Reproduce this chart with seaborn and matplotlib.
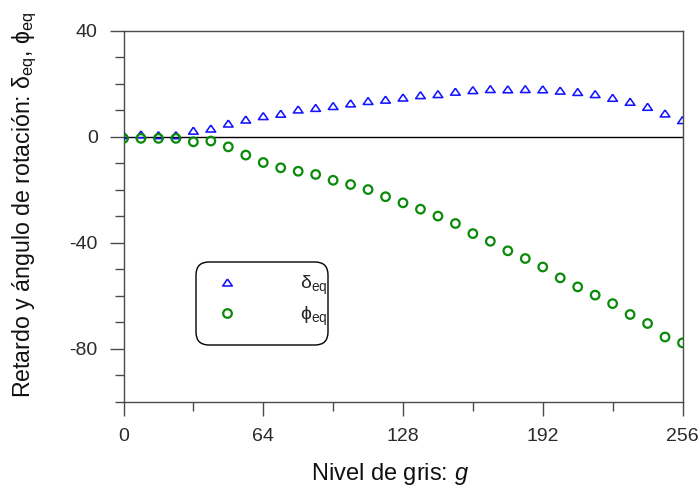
import numpy as np
import pandas as pd
import matplotlib
matplotlib.use("Agg")
import matplotlib.pyplot as plt
from matplotlib.lines import Line2D
from matplotlib.patches import FancyBboxPatch
from matplotlib.transforms import IdentityTransform
from matplotlib.ticker import MultipleLocator
import seaborn as sns

# Grey level g (0..256, step 8)
gray_level = list(range(0, 257, 8))

# Equivalent retardance delta_eq
delta_eq = [0.6, 0.9, 0.6, 0.6, 2.3, 3.1, 5.0, 6.5, 7.8, 8.7, 10.3, 10.9, 11.6,
            12.6, 13.5, 14.0, 14.8, 15.7, 16.1, 17.0, 17.6, 18.0, 17.9, 18.0,
            17.9, 17.4, 16.9, 16.1, 14.7, 13.2, 11.3, 8.8, 6.3]

# Equivalent rotation angle phi_eq
phi_eq = [-0.6, -0.6, -0.6, -0.6, -1.9, -1.6, -3.8, -6.9, -9.7, -11.7, -13.0,
          -14.2, -16.4, -18.0, -19.9, -22.6, -24.9, -27.3, -29.9, -32.7, -36.5,
          -39.4, -43.0, -45.9, -49.1, -53.2, -56.6, -59.7, -62.9, -67.0, -70.4,
          -75.5, -77.7]

x_ticks = [0, 64, 128, 192, 256]
y_ticks = [-80, -40, 0, 40]

sns.set_style("ticks")
plt.rcParams["font.family"] = ["Liberation Sans", "DejaVu Sans"]
plt.rcParams["mathtext.fontset"] = "custom"
plt.rcParams["mathtext.rm"] = "Liberation Sans"
plt.rcParams["mathtext.it"] = "Liberation Sans:italic"
plt.rcParams["axes.unicode_minus"] = False

BLUE = "#1414ff"
GREEN = "#0a8a0a"
AXIS = "#4a4a4a"
# flattened open triangle
TRI = [(0, 0.72), (-1, -0.72), (1, -0.72), (0, 0.72)]

df = pd.DataFrame({"g": gray_level, "delta": delta_eq, "phi": phi_eq})

fig = plt.figure(figsize=(7.0, 4.93), dpi=100)
ax = fig.add_axes([123.5 / 700, 91 / 493, 559 / 700, 371.3 / 493])

ax.axhline(0, color="black", lw=1.0, zorder=1)

sns.scatterplot(data=df, x="g", y="delta", ax=ax, marker=TRI, s=48,
                linewidth=1.15, zorder=3)
sns.scatterplot(data=df, x="g", y="phi", ax=ax, marker="o", s=38,
                linewidth=1.6, zorder=3)
ax.collections[0].set_facecolor("none")
ax.collections[0].set_edgecolor(BLUE)
ax.collections[1].set_facecolor("none")
ax.collections[1].set_edgecolor(GREEN)

ax.set_xlim(0, 256)
ax.set_ylim(-100, 40)
ax.set_xticks(x_ticks)
ax.set_yticks(y_ticks)
ax.xaxis.set_minor_locator(MultipleLocator(32))
ax.yaxis.set_minor_locator(MultipleLocator(10))

for side in ax.spines:
    ax.spines[side].set_visible(True)
    ax.spines[side].set_color(AXIS)
    ax.spines[side].set_linewidth(1.0)
ax.tick_params(which="major", direction="out", length=10, width=1.0,
               color=AXIS, labelsize=14, labelcolor="#2a2a2a", pad=8.5)
ax.tick_params(which="minor", direction="out", length=6.5, width=1.0,
               color=AXIS)
ax.tick_params(axis="x", which="both", top=False)
ax.tick_params(axis="y", which="both", right=False)

ax.set_xlabel("Nivel de gris: $\\mathit{g}$", fontsize=17, color="#111111")
ax.set_ylabel("Retardo y ángulo de rotación: δ$_{\\mathrm{eq}}$, ϕ$_{\\mathrm{eq}}$",
              fontsize=16.7, color="#111111")
ax.xaxis.set_label_coords(0.477, -0.158)
ax.yaxis.set_label_coords(-0.151, 0.53)

# rounded frame around the legend entries
box = FancyBboxPatch((196, 493 - 345), 132, 83,
                     boxstyle="round,pad=0,rounding_size=13",
                     transform=IdentityTransform(), facecolor="white",
                     edgecolor="black", linewidth=1.0, zorder=4)
ax.add_artist(box)

handles = [
    Line2D([], [], ls="none", marker=TRI, ms=6.9, mfc="none", mec=BLUE,
           mew=1.15),
    Line2D([], [], ls="none", marker="o", ms=6.2, mfc="none", mec=GREEN,
           mew=1.6),
]
labels = ["δ$_{\\mathrm{eq}}$", "ϕ$_{\\mathrm{eq}}$"]
leg = ax.legend(handles, labels, loc="center left",
                bbox_to_anchor=(0.151, 0.272), fontsize=14,
                handlelength=2.0, handletextpad=2.75, labelspacing=0.42,
                borderpad=0, borderaxespad=0, frameon=False)
leg.set_zorder(5)

fig.savefig("out.png", dpi=100)
